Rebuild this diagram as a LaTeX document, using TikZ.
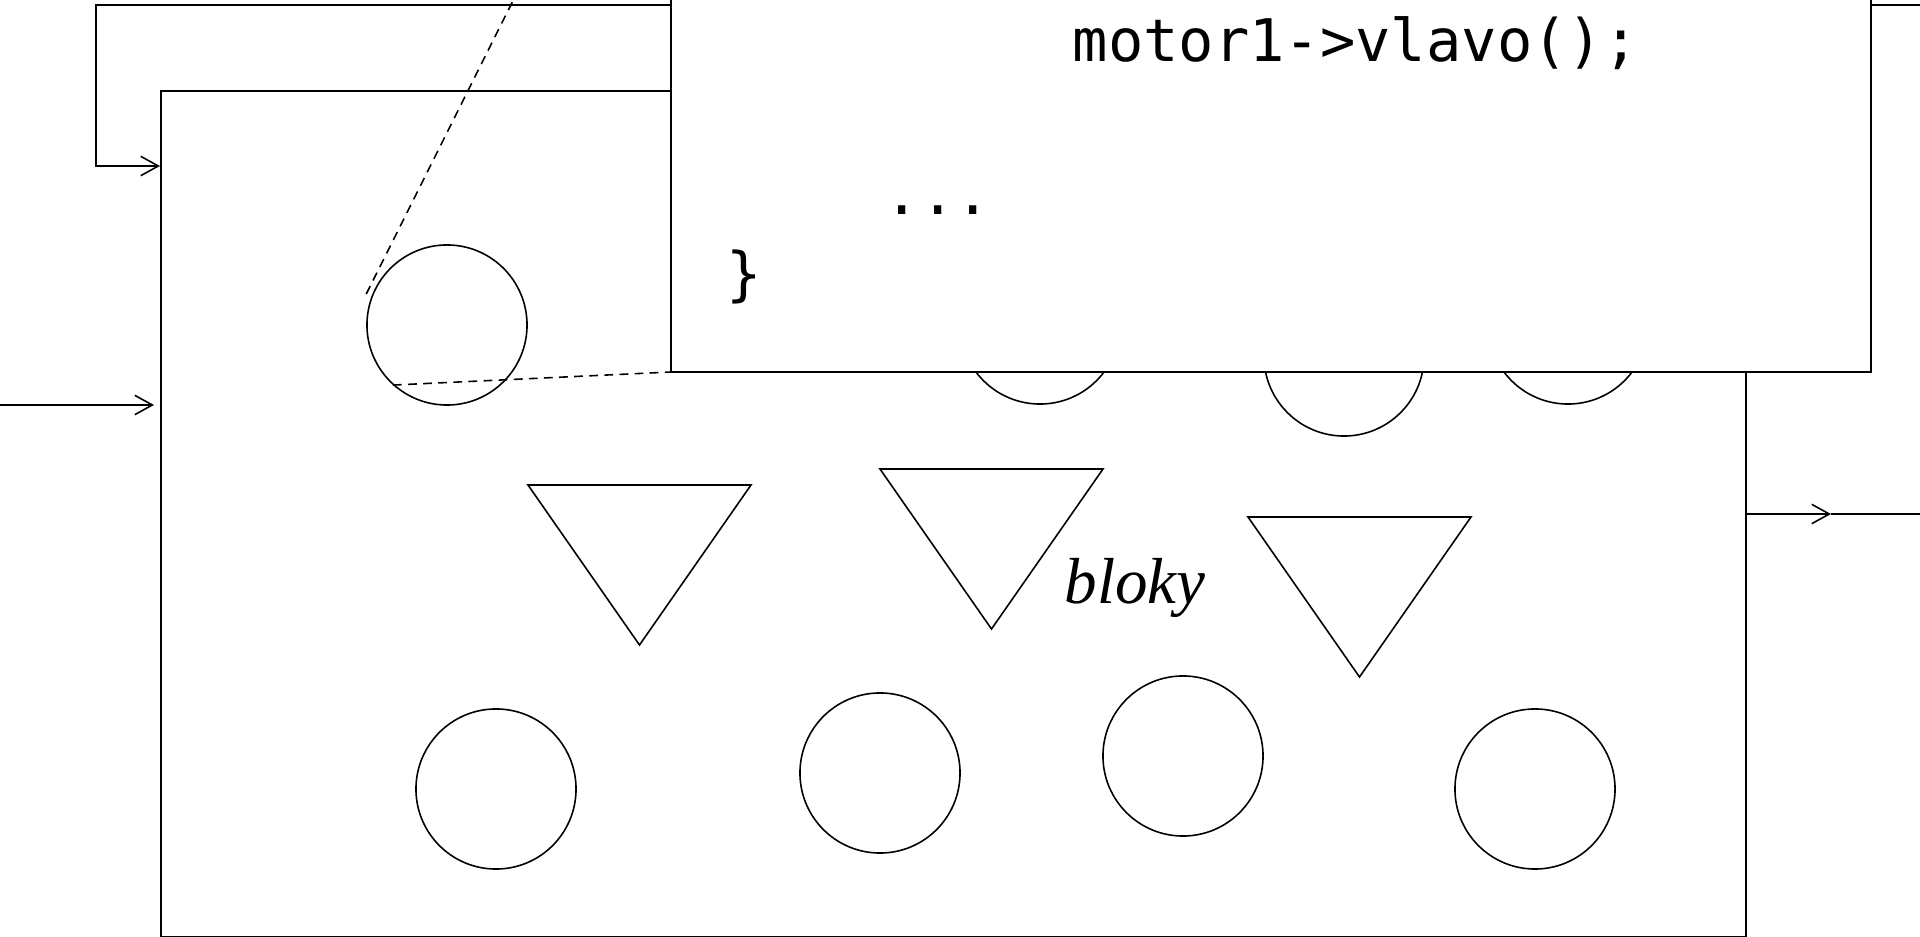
\documentclass[tikz,border=0pt]{standalone}
\usepackage{fontspec}
\setmainfont{Liberation Serif}
\setmonofont{DejaVu Sans Mono}
\usepackage{tikz}
\usetikzlibrary{arrows.meta, positioning, calc}

\begin{document}
\begin{tikzpicture}[x=0.01cm, y=-0.01cm, line width=0.45pt,
    >={Straight Barb[length=5pt, width=5.5pt]},
    blokcirc/.style={circle, draw, minimum size=1.6cm, inner sep=0pt},
    zoomline/.style={dash pattern=on 2.5pt off 1.8pt},
    kodtext/.style={font=\ttfamily\fontsize{16.7}{20}\selectfont, anchor=base west, inner sep=0pt}]
    \clip (0,0) rectangle (1920,937);
    \node[draw, minimum width=15.84cm, minimum height=8.46cm, anchor=north west, inner sep=0pt] (blok) at (160,90) {};
    \foreach \n/\x/\y in {0/447/325, 1/1040/324, 2/1344/356, 3/1568/324,
                          4/496/789, 5/880/773, 6/1183/756, 7/1535/789}
        \node[blokcirc] (c\n) at (\x,\y) {};
    \foreach \x/\y in {528/485, 880/469, 1248/517}
        \draw (\x,\y) -- ++(223,0) -- ++(-111.5,160) -- cycle;
    \node[font=\itshape\fontsize{18.5}{22}\selectfont, anchor=base, inner sep=0pt] (popis) at (1135,604) {bloky};

    \coordinate (vstup) at (-20,405);
    \coordinate (spatna) at (1960,5);
    \coordinate (zpat) at (96,166);
    \coordinate (vystup) at (1831,514);
    \draw[->, shorten >=1.7pt] (vstup) -- (vstup -| blok.west);
    \draw[->] (spatna) -- (spatna -| zpat) -- (zpat) -- (zpat -| blok.west);
    \draw[->] (vystup -| blok.east) -- (vystup);
    \draw (vystup) -- ++(120,0);

    \coordinate (kodNW) at (671,-315);
    \coordinate (kodSE) at (1871,372);
    \draw[zoomline] ($(c0.center)!1.07!(c0.159)$) -- (kodNW);
    \draw[zoomline] (c0.228) -- (kodNW |- kodSE);
    \draw[fill=white] (kodNW) rectangle (kodSE);
    \node[kodtext] (prikaz) at (1072,62) {motor1->vlavo();};
    \node[kodtext] (tecky) at (884,215) {...};
    \node[kodtext] (zavorka) at (726,295) {\}};
\end{tikzpicture}
\end{document}
